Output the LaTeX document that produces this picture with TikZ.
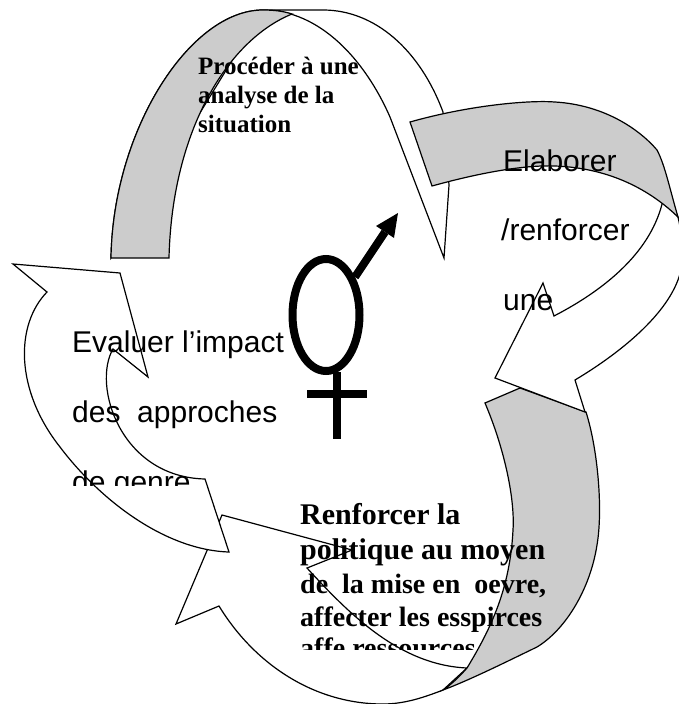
\documentclass[tikz,border=0pt]{standalone}
\usepackage{fontspec}
\setmainfont{Liberation Serif}
\setsansfont{Liberation Sans}

\tikzset{
  band/.style={draw=black, fill=white, line width=1.2pt, line join=miter},
  shade/.style={draw=black, fill=black!20, line width=1.2pt, line join=miter},
  symbol/.style={draw=black, line width=8pt},
  serif label/.style={inner sep=0pt, anchor=base west, font=\bfseries\fontsize{#1}{#1}\selectfont},
  sans label/.style={inner sep=0pt, anchor=base west, font=\sffamily\fontsize{30}{30}\selectfont}
}

\begin{document}
\begin{tikzpicture}[x=1pt, y=-1pt]
\useasboundingbox (0,0) rectangle (679,704);
\clip (0,0) rectangle (679,704);

% top arrow
\draw[band] (111,258) .. controls (113,130) and (190,10) .. (263,10) -- (323,10)
  .. controls (375,10) and (420,50) .. (443,112) -- (449,185) -- (444,258) -- (390,117)
  .. controls (365,60) and (320,10) .. (263,10) -- cycle;
\draw[shade] (111,258) .. controls (113,130) and (190,10) .. (263,10)
  .. controls (273,10) and (283,11) .. (292,14)
  .. controls (228,40) and (172,130) .. (169,258) -- cycle;

% bottom arrow
\draw[band] (443,690) .. controls (425,697) and (405,704) .. (383,704)
  .. controls (315,704) and (255,665) .. (219,606)
  -- (176,624) -- (222,515) -- (352,550) -- (307,568)
  .. controls (350,615) and (400,665) .. (467,668) -- cycle;
\draw[shade] (485,403) -- (520,388) -- (586,412)
  .. controls (598,450) and (603,510) .. (597,545)
  .. controls (590,590) and (565,630) .. (537,647)
  .. controls (510,660) and (470,680) .. (443,690)
  .. controls (452,684) and (460,676) .. (467,668)
  .. controls (490,630) and (510,590) .. (513,530)
  .. controls (515,500) and (505,450) .. (485,403) -- cycle;

% right arrow
\draw[band] (663,200) .. controls (652,250) and (608,288) .. (554,316)
  -- (543,283) -- (495,378) -- (585,412) -- (575,380)
  .. controls (625,350) and (672,310) .. (681,270)
  .. controls (684,250) and (682,235) .. (678,217) -- cycle;
\draw[shade] (410,122) .. controls (470,105) and (530,100) .. (555,102)
  .. controls (605,105) and (640,130) .. (657,150)
  .. controls (665,165) and (670,190) .. (678,217)
  .. controls (650,190) and (610,168) .. (555,166)
  .. controls (530,165) and (490,170) .. (432,186) -- cycle;

% left arrow
\draw[band] (13,264) -- (120,273) -- (148,377) -- (113,349)
  .. controls (92,385) and (120,477) .. (205,479) -- (229,552)
  .. controls (165,550) and (100,500) .. (60,447)
  .. controls (15,390) and (15,325) .. (47,292) -- cycle;

% gender symbol
\draw[symbol] (326,315) ellipse [x radius=33.5, y radius=56];
\draw[symbol] (355,277) -- (385,232);
\fill[black] (398,213) -- (376,226) -- (394,238) -- cycle;
\draw[symbol] (337,372) -- (337,439);
\draw[symbol] (307,394) -- (367,394);

% labels
\node[serif label=25] (analyse1) at (198,74) {Procéder à une};
\node[serif label=25] (analyse2) at (198,103) {analyse de la};
\node[serif label=25] (analyse3) at (198,132) {situation};

\node[sans label] (elaborer1) at (503,171) {Elaborer};
\node[sans label] (elaborer2) at (501,240) {/renforcer};
\node[sans label] (elaborer3) at (503,310) {une};

\begin{scope}
\clip (60,320) rectangle (300,485);
\node[sans label] (evaluer1) at (72,352) {Evaluer l’impact};
\node[sans label] (evaluer2) at (72,422) {des\ \ approches};
\node[sans label] (evaluer3) at (72,492) {de genre};
\end{scope}

\begin{scope}
\clip (290,500) rectangle (560,649);
\node[serif label=30] (politique1) at (300,524) {Renforcer la};
\node[serif label=30] (politique2) at (300,559) {politique au moyen};
\node[serif label=28] (politique3) at (300,593) {de\ \ la mise en\ \ oevre,};
\node[serif label=28] (politique4) at (300,626) {affecter les esspirces};
\node[serif label=28] (politique5) at (300,657) {affe ressources};
\end{scope}

\end{tikzpicture}
\end{document}
